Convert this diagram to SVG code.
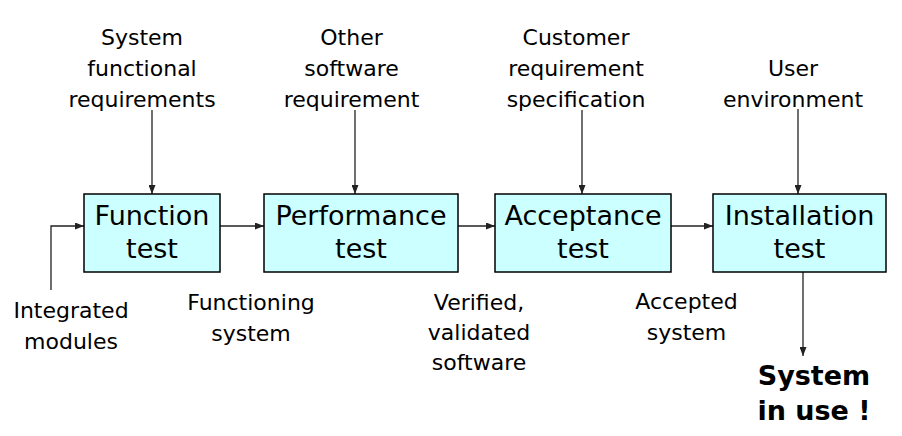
<svg xmlns="http://www.w3.org/2000/svg" width="902" height="436" viewBox="0 0 902 436">
<style>
.box{fill:#CCFFFF;stroke:#000;stroke-width:1.5}
.bl{font-family:"DejaVu Sans",Verdana,sans-serif;font-size:27px;fill:#000;text-anchor:middle}
.lb{font-family:"DejaVu Sans",Verdana,sans-serif;font-size:22px;fill:#000;text-anchor:middle}
.big{font-family:"DejaVu Sans",Verdana,sans-serif;font-size:27px;font-weight:bold;fill:#000;text-anchor:middle}
.c{fill:none;stroke:#222;stroke-width:1.3;marker-end:url(#ah)}
</style>
<defs>
<marker id="ah" markerWidth="9" markerHeight="7" refX="9" refY="3.5" orient="auto" markerUnits="userSpaceOnUse">
<path d="M0,0 L9,3.5 L0,7 Z" fill="#222"/>
</marker>
</defs>
<rect width="902" height="436" fill="#fff"/>
<g id="connectors">
<path class="c" d="M152,110 V194"/>
<path class="c" d="M355,110 V194"/>
<path class="c" d="M582,110 V194"/>
<path class="c" d="M798,109 V194"/>
<path class="c" d="M51,290 V226 H84"/>
<path class="c" d="M220,226 H264"/>
<path class="c" d="M458,226 H495"/>
<path class="c" d="M671,226 H713"/>
<path class="c" d="M803,272 V356"/>
</g>
<g id="function-test">
<rect class="box" x="84" y="194" width="136" height="78"/>
<text class="bl" x="152" y="225">Function</text>
<text class="bl" x="152" y="258">test</text>
</g>
<g id="performance-test">
<rect class="box" x="264" y="194" width="194" height="78"/>
<text class="bl" x="361" y="225">Performance</text>
<text class="bl" x="361" y="258">test</text>
</g>
<g id="acceptance-test">
<rect class="box" x="495" y="194" width="176" height="78"/>
<text class="bl" x="583" y="225">Acceptance</text>
<text class="bl" x="583" y="258">test</text>
</g>
<g id="installation-test">
<rect class="box" x="713" y="194" width="173" height="78"/>
<text class="bl" x="799.5" y="225">Installation</text>
<text class="bl" x="799.5" y="258">test</text>
</g>
<g id="system-functional-requirements">
<text class="lb" x="142" y="45">System</text>
<text class="lb" x="142" y="76">functional</text>
<text class="lb" x="142" y="107">requirements</text>
</g>
<g id="other-software-requirement">
<text class="lb" x="351.5" y="45">Other</text>
<text class="lb" x="351.5" y="76">software</text>
<text class="lb" x="351.5" y="107">requirement</text>
</g>
<g id="customer-requirement-specification">
<text class="lb" x="576" y="45">Customer</text>
<text class="lb" x="576" y="76">requirement</text>
<text class="lb" x="576" y="107">specification</text>
</g>
<g id="user-environment">
<text class="lb" x="793" y="76">User</text>
<text class="lb" x="793" y="107">environment</text>
</g>
<g id="integrated-modules">
<text class="lb" x="71" y="318">Integrated</text>
<text class="lb" x="71" y="349">modules</text>
</g>
<g id="functioning-system">
<text class="lb" x="251" y="310">Functioning</text>
<text class="lb" x="251" y="341">system</text>
</g>
<g id="verified-validated-software">
<text class="lb" x="479" y="310">Verified,</text>
<text class="lb" x="479" y="340">validated</text>
<text class="lb" x="479" y="370">software</text>
</g>
<g id="accepted-system">
<text class="lb" x="686.5" y="309">Accepted</text>
<text class="lb" x="686.5" y="340">system</text>
</g>
<g id="system-in-use">
<text class="big" x="814" y="385">System</text>
<text class="big" x="814" y="420">in use !</text>
</g>
</svg>
